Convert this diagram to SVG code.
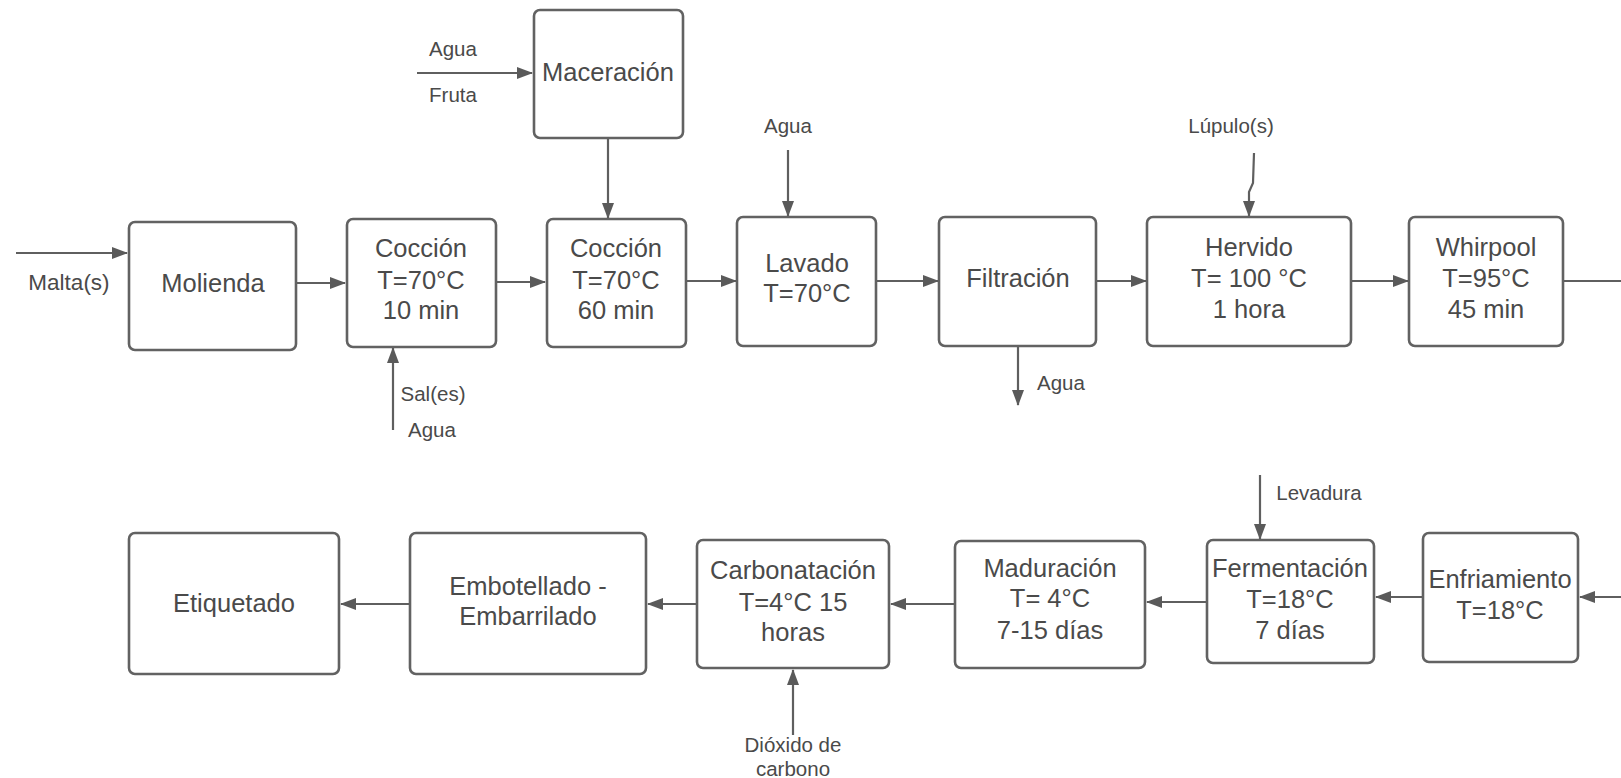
<svg xmlns="http://www.w3.org/2000/svg" width="1621" height="778" viewBox="0 0 1621 778">
<style>
.box{fill:#fff;stroke:#626262;stroke-width:2.6}
.t{font-family:"Liberation Sans",Arial,sans-serif;font-size:25.5px;fill:#4a4a4a;text-anchor:middle}
.l{font-family:"Liberation Sans",Arial,sans-serif;font-size:20.5px;fill:#4a4a4a;text-anchor:middle}
.c{fill:none;stroke:#5f5f5f;stroke-width:2.2}
</style>
<defs>
<marker id="ah" markerUnits="userSpaceOnUse" markerWidth="16" markerHeight="12" refX="15" refY="6" orient="auto">
<path d="M0,0 L16,6 L0,12 Z" fill="#5a5a5a"/>
</marker>
</defs>
<rect width="1621" height="778" fill="#fff"/>
<g id="connectors">
<line class="c" x1="16" y1="253" x2="127" y2="253" marker-end="url(#ah)"/>
<line class="c" x1="417" y1="73" x2="532" y2="73" marker-end="url(#ah)"/>
<line class="c" x1="608" y1="138" x2="608" y2="218" marker-end="url(#ah)"/>
<line class="c" x1="297" y1="283" x2="345" y2="283" marker-end="url(#ah)"/>
<line class="c" x1="496" y1="282" x2="545" y2="282" marker-end="url(#ah)"/>
<line class="c" x1="686" y1="281" x2="736" y2="281" marker-end="url(#ah)"/>
<line class="c" x1="877" y1="281" x2="938" y2="281" marker-end="url(#ah)"/>
<line class="c" x1="1097" y1="281" x2="1146" y2="281" marker-end="url(#ah)"/>
<line class="c" x1="1351" y1="281" x2="1408" y2="281" marker-end="url(#ah)"/>
<line class="c" x1="1563" y1="281" x2="1621" y2="281"/>
<line class="c" x1="393" y1="430" x2="393" y2="348" marker-end="url(#ah)"/>
<line class="c" x1="788" y1="150" x2="788" y2="216" marker-end="url(#ah)"/>
<path class="c" d="M1254,153 L1253,183 L1249,192 L1249,216" marker-end="url(#ah)"/>
<line class="c" x1="1018" y1="346" x2="1018" y2="405" marker-end="url(#ah)"/>
<line class="c" x1="1621" y1="597" x2="1580" y2="597" marker-end="url(#ah)"/>
<line class="c" x1="1423" y1="597" x2="1376" y2="597" marker-end="url(#ah)"/>
<line class="c" x1="1207" y1="602" x2="1147" y2="602" marker-end="url(#ah)"/>
<line class="c" x1="955" y1="604" x2="891" y2="604" marker-end="url(#ah)"/>
<line class="c" x1="697" y1="604" x2="648" y2="604" marker-end="url(#ah)"/>
<line class="c" x1="410" y1="604" x2="341" y2="604" marker-end="url(#ah)"/>
<line class="c" x1="1260" y1="475" x2="1260" y2="539" marker-end="url(#ah)"/>
<line class="c" x1="793" y1="735" x2="793" y2="670" marker-end="url(#ah)"/>
</g>
<g id="labels">
<text class="l" x="453" y="56">Agua</text>
<text class="l" x="453" y="102">Fruta</text>
<text class="l" x="69" y="290" style="font-size:22.5px">Malta(s)</text>
<text class="l" x="433" y="401">Sal(es)</text>
<text class="l" x="432" y="437">Agua</text>
<text class="l" x="788" y="133">Agua</text>
<text class="l" x="1231" y="133">Lúpulo(s)</text>
<text class="l" x="1061" y="390">Agua</text>
<text class="l" x="1319" y="500">Levadura</text>
<text class="l" x="793" y="752">Dióxido de</text>
<text class="l" x="793" y="776">carbono</text>
</g>
<g id="maceracion"><rect class="box" x="534" y="10" width="149" height="128" rx="6"/><text class="t" x="608" y="81">Maceración</text></g>
<g id="molienda"><rect class="box" x="129" y="222" width="167" height="128" rx="6"/><text class="t" x="213" y="292">Molienda</text></g>
<g id="coccion1"><rect class="box" x="347" y="219" width="149" height="128" rx="6"/><text class="t" x="421" y="257">Cocción</text><text class="t" x="421" y="289">T=70°C</text><text class="t" x="421" y="319">10 min</text></g>
<g id="coccion2"><rect class="box" x="547" y="219" width="139" height="128" rx="6"/><text class="t" x="616" y="257">Cocción</text><text class="t" x="616" y="289">T=70°C</text><text class="t" x="616" y="319">60 min</text></g>
<g id="lavado"><rect class="box" x="737" y="217" width="139" height="129" rx="6"/><text class="t" x="807" y="272">Lavado</text><text class="t" x="807" y="302">T=70°C</text></g>
<g id="filtracion"><rect class="box" x="939" y="217" width="157" height="129" rx="6"/><text class="t" x="1018" y="287">Filtración</text></g>
<g id="hervido"><rect class="box" x="1147" y="217" width="204" height="129" rx="6"/><text class="t" x="1249" y="256">Hervido</text><text class="t" x="1249" y="287">T= 100 °C</text><text class="t" x="1249" y="318">1 hora</text></g>
<g id="whirpool"><rect class="box" x="1409" y="217" width="154" height="129" rx="6"/><text class="t" x="1486" y="256">Whirpool</text><text class="t" x="1486" y="287">T=95°C</text><text class="t" x="1486" y="318">45 min</text></g>
<g id="etiquetado"><rect class="box" x="129" y="533" width="210" height="141" rx="6"/><text class="t" x="234" y="612">Etiquetado</text></g>
<g id="embotellado"><rect class="box" x="410" y="533" width="236" height="141" rx="6"/><text class="t" x="528" y="595">Embotellado -</text><text class="t" x="528" y="625">Embarrilado</text></g>
<g id="carbonatacion"><rect class="box" x="697" y="540" width="192" height="128" rx="6"/><text class="t" x="793" y="579">Carbonatación</text><text class="t" x="793" y="611">T=4°C 15</text><text class="t" x="793" y="641">horas</text></g>
<g id="maduracion"><rect class="box" x="955" y="541" width="190" height="127" rx="6"/><text class="t" x="1050" y="577">Maduración</text><text class="t" x="1050" y="607">T= 4°C</text><text class="t" x="1050" y="639">7-15 días</text></g>
<g id="fermentacion"><rect class="box" x="1207" y="540" width="167" height="123" rx="6"/><text class="t" x="1290" y="577">Fermentación</text><text class="t" x="1290" y="608">T=18°C</text><text class="t" x="1290" y="639">7 días</text></g>
<g id="enfriamiento"><rect class="box" x="1423" y="533" width="155" height="129" rx="6"/><text class="t" x="1500" y="588">Enfriamiento</text><text class="t" x="1500" y="619">T=18°C</text></g>
</svg>
